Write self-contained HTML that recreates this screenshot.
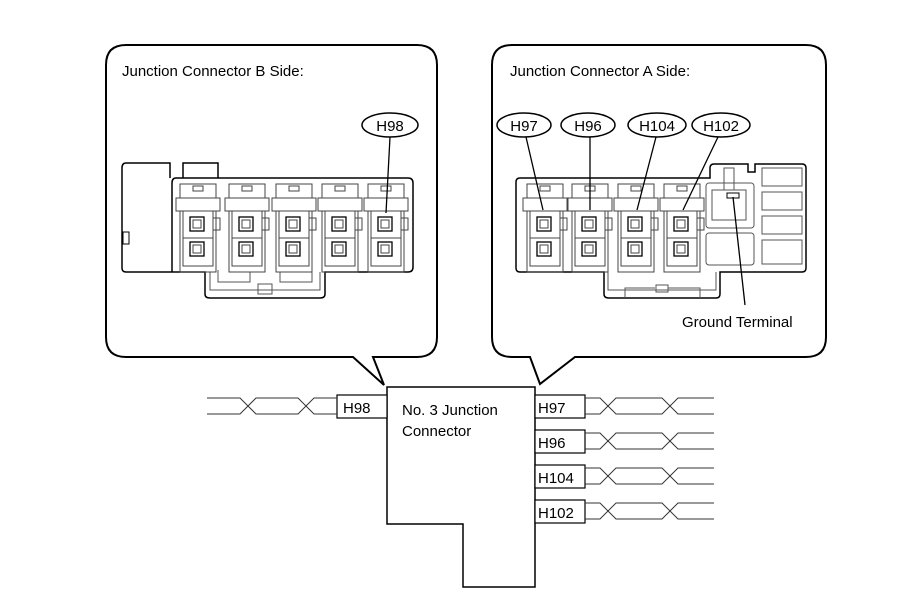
<!DOCTYPE html>
<html><head><meta charset="utf-8"><style>
html,body{margin:0;padding:0;background:#fff;}
svg{display:block;}
text{font-family:"Liberation Sans",Arial,sans-serif;fill:#000;}
</style></head><body>
<svg width="907" height="610" viewBox="0 0 907 610" xmlns="http://www.w3.org/2000/svg">
<defs>
<g id="cav" fill="none" stroke="#444" stroke-width="1">
  <rect x="0" y="6" width="36" height="88" />
  <rect x="13" y="8" width="10" height="5"/>
  <path d="M-4 20 H40 V33 H-4 Z" fill="#fff"/>
  <rect x="3" y="33" width="30" height="55" fill="#fff"/>
  <line x1="3" y1="60" x2="33" y2="60"/>
  <rect x="10" y="39" width="14" height="14" stroke="#000" stroke-width="1.3"/>
  <rect x="13" y="42" width="8" height="8"/>
  <rect x="10" y="64" width="14" height="14" stroke="#000" stroke-width="1.3"/>
  <rect x="13" y="67" width="8" height="8"/>
  <path d="M33 40 H40 V52 H33"/>
</g>
</defs>
<g fill="none" stroke="#000" stroke-width="2">
  <path d="M126 45 H417 Q437 45 437 65 V337 Q437 357 417 357 H373 L384 385 L353 357 H126 Q106 357 106 337 V65 Q106 45 126 45 Z" fill="#fff"/>
  <path d="M512 45 H806 Q826 45 826 65 V337 Q826 357 806 357 H575 L540 384 L530 357 H512 Q492 357 492 337 V65 Q492 45 512 45 Z" fill="#fff"/>
</g>
<text x="122" y="76" font-size="15">Junction Connector B Side:</text>
<text x="510" y="76" font-size="15">Junction Connector A Side:</text>

<g fill="none" stroke="#000" stroke-width="1.5">
  <path d="M126 163 H170 V178 M183 178 V163 H218 V178" />
  <path d="M126 163 Q122 163 122 168 V268 Q122 272 126 272 H205 V294 Q205 298 210 298 H320 Q325 298 325 294 V272 H408 Q413 272 413 267 V183 Q413 178 408 178 H176 Q172 178 172 183 V272"/>
  <rect x="123" y="232" width="6" height="12" stroke-width="1"/>
</g>
<g fill="none" stroke="#555" stroke-width="1">
  <path d="M210 272 V290 H320 V272"/>
  <rect x="258" y="284" width="14" height="10"/>
  <path d="M218 270 V282 H250 V272 M280 272 V282 H312 V270"/>
</g>
<use href="#cav" x="180" y="178"/>
<use href="#cav" x="229" y="178"/>
<use href="#cav" x="276" y="178"/>
<use href="#cav" x="322" y="178"/>
<use href="#cav" x="368" y="178"/>
<ellipse cx="390" cy="125" rx="28" ry="12" fill="#fff" stroke="#000" stroke-width="1.5"/>
<text x="390" y="131" font-size="15" text-anchor="middle">H98</text>
<line x1="390" y1="137" x2="386" y2="213" stroke="#000" stroke-width="1.3"/>

<g fill="none" stroke="#000" stroke-width="1.5">
  <path d="M520 178 H710 V168 Q710 164 714 164 H748 V172 H755 V164 H802 Q806 164 806 168 V268 Q806 272 802 272 H720 V294 Q720 298 716 298 H609 Q604 298 604 294 V272 H520 Q516 272 516 268 V182 Q516 178 520 178 Z"/>
</g>
<g fill="none" stroke="#555" stroke-width="1">
  <rect x="706" y="183" width="48" height="45" rx="3"/>
  <rect x="712" y="190" width="34" height="30"/>
  <rect x="724" y="168" width="10" height="22"/>
  <rect x="727" y="193" width="12" height="5" stroke="#000"/>
  <rect x="706" y="233" width="48" height="32" rx="3"/>
  <rect x="762" y="168" width="40" height="18"/>
  <rect x="762" y="192" width="40" height="18"/>
  <rect x="762" y="216" width="40" height="18"/>
  <rect x="762" y="240" width="40" height="24"/>
  <path d="M608 272 V290 H716 V272 M625 298 V288 H655 M668 288 H700 V298"/>
  <rect x="656" y="285" width="12" height="7"/>
</g>
<use href="#cav" x="527" y="178"/>
<use href="#cav" x="572" y="178"/>
<use href="#cav" x="618" y="178"/>
<use href="#cav" x="664" y="178"/>
<g fill="#fff" stroke="#000" stroke-width="1.5">
  <ellipse cx="524" cy="125" rx="27" ry="12"/>
  <ellipse cx="588" cy="125" rx="27" ry="12"/>
  <ellipse cx="657" cy="125" rx="29" ry="12"/>
  <ellipse cx="721" cy="125" rx="29" ry="12"/>
</g>
<g font-size="15" text-anchor="middle">
  <text x="524" y="131">H97</text>
  <text x="588" y="131">H96</text>
  <text x="657" y="131">H104</text>
  <text x="721" y="131">H102</text>
</g>
<g stroke="#000" stroke-width="1.3">
  <line x1="526" y1="137" x2="543" y2="210"/>
  <line x1="590" y1="137" x2="590" y2="210"/>
  <line x1="656" y1="137" x2="637" y2="210"/>
  <line x1="718" y1="137" x2="683" y2="210"/>
  <line x1="733" y1="197" x2="745" y2="305"/>
</g>
<text x="682" y="327" font-size="15">Ground Terminal</text>

<path d="M387 387 H535 V587 H463 V524 H387 Z" fill="#fff" stroke="#000" stroke-width="1.5"/>
<text x="402" y="415" font-size="15">No. 3 Junction</text>
<text x="402" y="436" font-size="15">Connector</text>
<g fill="#fff" stroke="#000" stroke-width="1.2">
  <rect x="337" y="395" width="50" height="23"/>
  <rect x="535" y="395" width="50" height="23"/>
  <rect x="535" y="430" width="50" height="23"/>
  <rect x="535" y="465" width="50" height="23"/>
  <rect x="535" y="500" width="50" height="23"/>
</g>
<g font-size="15">
  <text x="343" y="413">H98</text>
  <text x="538" y="413">H97</text>
  <text x="538" y="448">H96</text>
  <text x="538" y="483">H104</text>
  <text x="538" y="518">H102</text>
</g>
<g fill="none" stroke="#333" stroke-width="1">
  <path d="M207 398 H240 L256 414 H298 L314 398 H337"/>
  <path d="M207 414 H240 L256 398 H298 L314 414 H337"/>
  <g id="rw">
  <path d="M585 398 H600 L616 414 H662 L678 398 H714"/>
  <path d="M585 414 H600 L616 398 H662 L678 414 H714"/>
  </g>
  <use href="#rw" y="35"/>
  <use href="#rw" y="70"/>
  <use href="#rw" y="105"/>
</g>
</svg>
</body></html>
